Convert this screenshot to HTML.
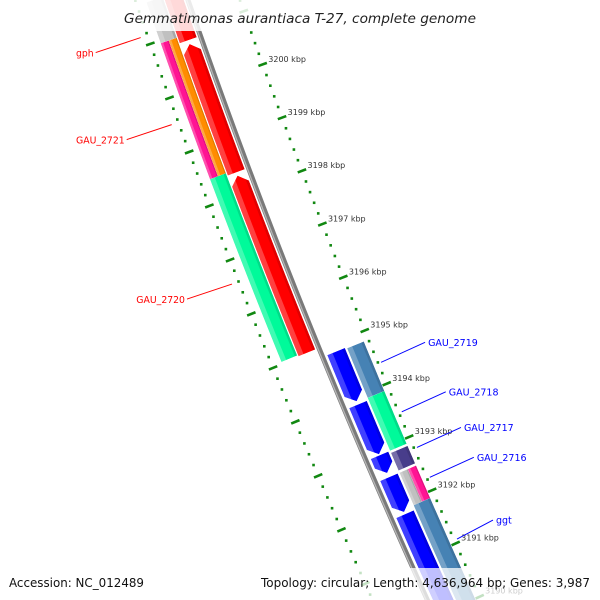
<!DOCTYPE html>
<html><head><meta charset="utf-8"><style>
html,body{margin:0;padding:0;background:#fff;overflow:hidden;}
svg{display:block;overflow:hidden;}
</style></head><body>
<svg id="map" width="600" height="600" viewBox="0 0 600 600" xmlns="http://www.w3.org/2000/svg">
<defs id="defs"><clipPath id="frame"><rect x="0" y="0" width="600" height="600"/></clipPath></defs>
<g clip-path="url(#frame)">
<g id="genes"></g>
<g id="backbone"></g>
<g id="ticks"></g>
<g id="labels"></g>
</g>
<rect x="115" y="0" width="370" height="31" fill="#fff" fill-opacity="0.85"/>
<text x="300" y="23" text-anchor="middle" font-family="DejaVu Sans, Liberation Sans, sans-serif" font-style="italic" font-size="13.5" fill="#222" textLength="352" lengthAdjust="spacingAndGlyphs">Gemmatimonas aurantiaca T-27, complete genome</text>
<rect x="0" y="568" width="600" height="32" fill="#fff" fill-opacity="0.75"/>
<text x="9" y="587" font-family="DejaVu Sans, Liberation Sans, sans-serif" font-size="12.5" fill="#111" textLength="135" lengthAdjust="spacingAndGlyphs">Accession: NC_012489</text>
<text x="590" y="587" text-anchor="end" font-family="DejaVu Sans, Liberation Sans, sans-serif" font-size="12.5" fill="#111" textLength="329" lengthAdjust="spacingAndGlyphs">Topology: circular; Length: 4,636,964 bp; Genes: 3,987</text>
</svg>
<script>
// ---- data ----
const geneNames = ["red-a","gph","gau-2721-a","gau-2721-b","gau-2720","top-orange","top-gray","red-c","blue-1","blue-2","blue-3","blue-4","blue-5","gau-2719","gau-2718","gau-2717","gau-2716-a","gau-2716-b","ggt"];
const geneStartKbp = [3201.80,3200.77,3200.95,3200.95,3198.43,3202.00,3201.71,3198.32,3194.85,3193.86,3192.91,3192.50,3191.81,3194.83,3193.90,3192.87,3192.50,3192.50,3191.89];
const geneEndKbp   = [3200.84,3198.38,3198.43,3198.43,3195.04,3201.75,3200.95,3195.02,3193.92,3192.93,3192.58,3191.85,3189.50,3193.90,3192.91,3192.54,3191.89,3191.89,3189.50];
const geneLane     = ["redL","redL","outA","outB","outL","outL","outL","redL","r1","r1","r1","r1","r1","r2","r2","r2","r2a","r2b","r2"];
const geneColor    = ["#ff0000","#ff0000","#ff1493","#ff8c00","#00fa9a","#ff8c00","#c0c0c0","#ff0000","#0000ff","#0000ff","#0000ff","#0000ff","#0000ff","#4682b4","#00fa9a","#483d8b","#c0c0c0","#ff1493","#4682b4"];
const geneHead     = ["top","top","none","none","none","none","none","top","bottom","bottom","bottom","bottom","bottom","none","none","none","none","none","none"];
const majorTicks = [3202,3201,3200,3199,3198,3197,3196,3195,3194,3193,3192,3191,3190,3189];
const tickLabels = ["3202 kbp","3201 kbp","3200 kbp","3199 kbp","3198 kbp","3197 kbp","3196 kbp","3195 kbp","3194 kbp","3193 kbp","3192 kbp","3191 kbp","3190 kbp","3189 kbp"];
const leftLabelText = ["gph","GAU_2721","GAU_2720"];
const leftLabelKbp = [3201.16,3199.55,3196.60];
const rightLabelText = ["GAU_2719","GAU_2718","GAU_2717","GAU_2716","ggt"];
const rightLabelKbp = [3194.38,3193.45,3192.78,3192.22,3191.06];

// ---- geometry ----
const LANES = {redL:[-22,-4], outL:[-40,-23], outA:[-40,-31.5], outB:[-31.5,-23], r1:[5,24], r2:[26,44], r2a:[26,35], r2b:[35,44]};
const C2 = 0.9e-4;
function bx(s){return 188+0.345*s+C2*s*s;}
function slope(s){return 0.345+2*C2*s;}
function pt(s,n){const m=slope(s),k=Math.sqrt(1+m*m);return [bx(s)+n/k, s-n*m/k];}
function sOf(kbp){return 81+(3200-kbp)*53.6;}
const NS="http://www.w3.org/2000/svg";
function mk(tag,attrs,parent){const e=document.createElementNS(NS,tag);for(const a in attrs)e.setAttribute(a,attrs[a]);parent.appendChild(e);return e;}
function edge(s1,s2,n){const out=[];const N=Math.max(2,Math.ceil(Math.abs(s2-s1)/10));for(let i=0;i<=N;i++){out.push(pt(s1+(s2-s1)*i/N,n));}return out;}
function ptsStr(a){return a.map(p=>p[0].toFixed(2)+","+p[1].toFixed(2)).join(" ");}

// ---- genes ----
const gG=document.getElementById("genes");
const defs=document.getElementById("defs");
for(let i=0;i<geneNames.length;i++){
  const s1=sOf(geneStartKbp[i]), s2=sOf(geneEndKbp[i]);
  const [n1,n2]=LANES[geneLane[i]];
  const nm=(n1+n2)/2;
  const h=Math.min(8,(s2-s1)*0.5);
  let poly;
  if(geneHead[i]==="top"){
    poly=[pt(s1,nm)].concat(edge(s1+h,s2,n1)).concat(edge(s2,s1+h,n2));
  }else if(geneHead[i]==="bottom"){
    poly=edge(s1,s2-h,n1).concat([pt(s2,nm)]).concat(edge(s2-h,s1,n2));
  }else{
    poly=edge(s1,s2,n1).concat(edge(s2,s1,n2));
  }
  const cp=mk("clipPath",{id:"cp"+i},defs);
  mk("polygon",{points:ptsStr(poly)},cp);
  const g=mk("g",{"clip-path":"url(#cp"+i+")"},gG);
  
  
  const base=mk("polygon",{points:ptsStr(poly),fill:geneColor[i]},g);
  
  
  const w=n2-n1;
  const hi=mk("polygon",{points:ptsStr(edge(s1-10,s2+10,n1).concat(edge(s2+10,s1-10,n1+w*0.3))),fill:"#fff","fill-opacity":"0.25"},g);
  
  
  const sh=mk("polygon",{points:ptsStr(edge(s1-10,s2+10,n2-w*0.15).concat(edge(s2+10,s1-10,n2))),fill:"#000","fill-opacity":"0.12"},g);
  
  
}

// ---- backbone ----
const gB=document.getElementById("backbone");
const bb=mk("polyline",{points:ptsStr(edge(-10,640,0)),fill:"none",stroke:"#7a7a7a","stroke-width":"5"},gB);


const bb2=mk("polyline",{points:ptsStr(edge(-10,640,-1.2)),fill:"none",stroke:"#b5b5b5","stroke-width":"1.3"},gB);



// ---- ticks ----
const gT=document.getElementById("ticks");
const sides=[-50,49];
for(let t=0;t<majorTicks.length-1;t++){
  for(let j=1;j<5;j++){
    const kb=majorTicks[t]-j*0.2;
    for(const n of sides){
      const p=pt(sOf(kb),n);
      const d=mk("rect",{x:(p[0]-1.3).toFixed(2),y:(p[1]-1.3).toFixed(2),width:"2.6",height:"2.6",fill:"#118811"},gT);
      
      
    }
  }
}
for(let t=0;t<majorTicks.length;t++){
  const s=sOf(majorTicks[t]);
  for(const n of sides){
    const a=pt(s,n-4.5), b=pt(s,n+4.5);
    const l=mk("line",{x1:a[0],y1:a[1],x2:b[0],y2:b[1],stroke:"#118811","stroke-width":"2.6"},gT);
    
    
  }
  const q=pt(s,55);
  if(q[1]<20) continue;
  const tx=mk("text",{x:(q[0]+0).toFixed(2),y:(q[1]-0.5).toFixed(2),"font-family":"DejaVu Sans, Liberation Sans, sans-serif","font-size":"8","fill":"#333"},gT);
  tx.textContent=tickLabels[t];
  
  
}

// ---- gene labels ----
const gL=document.getElementById("labels");
for(let i=0;i<leftLabelText.length;i++){
  const p=pt(sOf(leftLabelKbp[i]),-57);
  const l=mk("line",{x1:p[0],y1:p[1],x2:p[0]-45,y2:p[1]+15,stroke:"#ff0000","stroke-width":"1"},gL);
  
  
  const t=mk("text",{x:p[0]-47,y:p[1]+19,"text-anchor":"end","font-family":"DejaVu Sans, Liberation Sans, sans-serif","font-size":"9.3","fill":"#ff0000"},gL);
  t.textContent=leftLabelText[i];
  
  
}
for(let i=0;i<rightLabelText.length;i++){
  const p=pt(sOf(rightLabelKbp[i]),52);
  const len=i===rightLabelText.length-1?36:44;
  const dy=i===rightLabelText.length-1?-19:-20;
  const l=mk("line",{x1:p[0],y1:p[1],x2:p[0]+len,y2:p[1]+dy,stroke:"#0000ff","stroke-width":"1"},gL);
  
  
  const t=mk("text",{x:p[0]+len+3,y:p[1]+dy+3.5,"font-family":"DejaVu Sans, Liberation Sans, sans-serif","font-size":"9.5","fill":"#0000ff"},gL);
  t.textContent=rightLabelText[i];
  
  
}
</script>
</body></html>
